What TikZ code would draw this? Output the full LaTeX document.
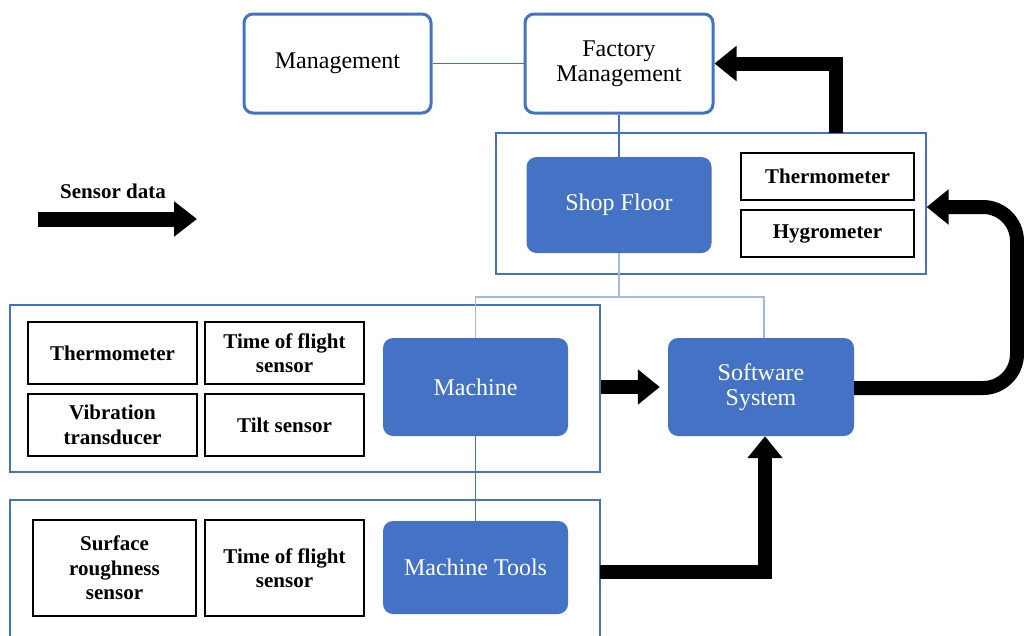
\documentclass[tikz,border=0pt]{standalone}
\usepackage{fontspec}
\setmainfont{Liberation Serif}
\usetikzlibrary{arrows.meta,calc}
\definecolor{accent}{HTML}{4472C4}
\definecolor{lightacc}{HTML}{A4B8E2}
\tikzset{
  mgmt/.style={draw=accent, line width=3pt, fill=white, rounded corners=9pt, inner sep=0pt, align=center, font=\fontsize{24}{25}\selectfont},
  bluebox/.style={fill=accent, draw=none, rounded corners=10pt, inner sep=0pt, align=center, text=white, font=\fontsize{24}{25}\selectfont},
  sensorbox/.style={draw=black, line width=1.2pt, fill=white, inner sep=0pt, align=center, font=\bfseries\fontsize{21}{24.5}\selectfont},
  container/.style={draw=accent, line width=1.2pt, inner sep=0pt},
  thinlink/.style={draw=accent, line width=1.1pt},
  lightlink/.style={draw=lightacc, line width=1.2pt},
  bigarrow/.style={line width=14pt, -{Triangle[width=34pt,length=22pt]}},
}
\begin{document}
\begin{tikzpicture}[x=1pt,y=-1pt]
\useasboundingbox (0,0) rectangle (1024,635);
\clip (0,0) rectangle (1024,635);
\fill[white] (0,0) rectangle (1024,635);

% containers
\node[container, minimum width=430pt, minimum height=141pt] (shopc) at (711,203.5) {};
\node[container, minimum width=590pt, minimum height=167pt] (machc) at (305,388.5) {};
\node[container, minimum width=590pt, minimum height=150pt] (toolc) at (305,575) {};

% top boxes
\node[mgmt, minimum width=187pt, minimum height=99pt] (mgmt) at (337.5,63.5) {\raisebox{-2pt}{Management}};
\node[mgmt, minimum width=188pt, minimum height=99pt] (fm) at (619,63.5) {Factory\\Management};

% blue nodes
\node[bluebox, minimum width=185pt, minimum height=96pt] (shop) at (619,205) {Shop Floor};
\node[bluebox, minimum width=185pt, minimum height=98pt] (machine) at (475.5,387) {Machine};
\node[bluebox, minimum width=185pt, minimum height=93pt] (tools) at (475.5,567.5) {Machine Tools};
\node[bluebox, minimum width=186pt, minimum height=98pt] (soft) at (761,387) {Software\\System};

% links
\coordinate (split) at (619,297);
\draw[thinlink] (mgmt.east) -- (fm.west);
\draw[thinlink] (fm.south) -- (shop.north);
\draw[lightlink] (shop.south) -- (split);
\draw[lightlink] (machine.north) |- (split);
\draw[lightlink] ($(soft.north)+(3,0)$) |- (split);
\draw[thinlink] (machine.south) -- (tools.north);

% sensors
\node[sensorbox, minimum width=173pt, minimum height=47pt] (th1) at (827.5,176.5) {Thermometer};
\node[sensorbox, minimum width=173pt, minimum height=47pt] (hy) at (827.5,233.5) {Hygrometer};
\node[sensorbox, minimum width=169pt, minimum height=62pt] (th2) at (112.5,353) {Thermometer};
\node[sensorbox, minimum width=159pt, minimum height=62pt] (tof1) at (284.5,353) {Time of flight\\sensor};
\node[sensorbox, minimum width=169pt, minimum height=62pt] (vib) at (112.5,425) {Vibration\\transducer};
\node[sensorbox, minimum width=159pt, minimum height=62pt] (tilt) at (284.5,425) {Tilt sensor};
\node[sensorbox, minimum width=163pt, minimum height=96pt] (surf) at (114.5,568) {Surface\\roughness\\sensor};
\node[sensorbox, minimum width=159pt, minimum height=96pt] (tof2) at (284.5,568) {Time of flight\\sensor};

% big arrows
\draw[bigarrow, shorten >=8pt] (machc.east |- soft.west) -- (soft.west);
\coordinate (mtout) at (600,572);
\draw[bigarrow] (mtout) -| ($(soft.south)+(4,0)$);
\coordinate (rc1) at (1017,388);
\coordinate (rc2) at (1017,207);
\draw[bigarrow, rounded corners=34pt] (soft.east |- rc1) -- (rc1) -- (rc2) -- (shopc.east |- rc2);
\coordinate (fmout) at (836,133);
\draw[bigarrow] (fmout) |- (fm.east);

% legend
\node[font=\bfseries\fontsize{21}{24.5}\selectfont] (legend) at (113,191) {Sensor data};
\coordinate (lg1) at (38,219);
\coordinate (lg2) at (197,219);
\draw[line width=15pt, -{Triangle[width=34pt,length=23pt]}] (lg1) -- (lg2);
\end{tikzpicture}
\end{document}
